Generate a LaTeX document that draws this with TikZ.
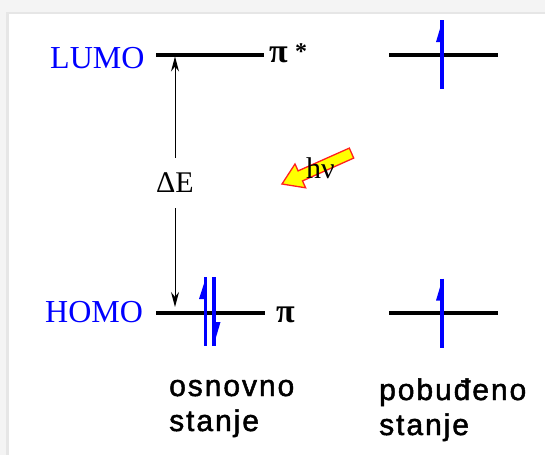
\documentclass[tikz,border=0pt]{standalone}
\usepackage{fontspec}
\setmainfont{Liberation Serif}
\setsansfont{Liberation Sans}
\newfontfamily\labfont[LetterSpace=6.5,FakeBold=1.6]{Liberation Sans}
\usetikzlibrary{arrows.meta}
\definecolor{lblue}{RGB}{0,0,255}
\definecolor{framebg}{RGB}{244,244,244}
\definecolor{frameline}{RGB}{230,230,230}
\definecolor{hvyellow}{RGB}{255,255,0}
\definecolor{hvred}{RGB}{255,30,30}
\begin{document}
\begin{tikzpicture}[x=1pt,y=-1pt,
  level/.style={line width=4pt,black},
  spin/.style={line width=3.5pt,lblue},
  flag/.style={fill=lblue,draw=none},
  gaparrow/.style={line width=1pt,-{Stealth[length=15pt,width=8pt]}},
  orb/.style={font=\fontsize{32}{38}\selectfont,text=lblue,inner sep=0pt,anchor=base west},
  sym/.style={font=\fontsize{34}{40}\selectfont\bfseries,inner sep=0pt,anchor=base west},
  lab/.style={font=\fontsize{30}{36}\selectfont\labfont,inner sep=0pt,anchor=base west},
]
\useasboundingbox (0,0) rectangle (545,455);
\fill[framebg] (0,0) rectangle (545,455);
\fill[frameline] (6,12) rectangle (545,455);
\fill[white] (9,14) rectangle (545,455);

% orbital labels
\node[orb] (lumo) at (50,68) {LUMO};
\node[orb] (homo) at (45,322) {HOMO};
\node[sym] (pistar) at (269,62) {π};
\node[inner sep=0pt,anchor=base west,font=\fontsize{24}{28}\selectfont\bfseries] (star) at (295,59) {*};
\node[sym] (pi) at (276,322) {π};

% level lines
\coordinate (lumoL) at (156,54.5);
\coordinate (lumoR) at (264,54.5);
\coordinate (homoL) at (156,313);
\coordinate (homoR) at (265,313);
\coordinate (elumoL) at (389,54.5);
\coordinate (elumoR) at (498,54.5);
\coordinate (ehomoL) at (389,313);
\coordinate (ehomoR) at (498,313);
\draw[level] (lumoL) -- (lumoR);
\draw[level] (homoL) -- (homoR);
\draw[level] (elumoL) -- (elumoR);
\draw[level] (ehomoL) -- (ehomoR);

% Delta E
\node[inner sep=0pt,minimum height=50pt,font=\fontsize{30}{36}\selectfont] (dE) at (175,183) {ΔE};
\coordinate (dEtop) at (175,56.5);
\coordinate (dEbot) at (175,307);
\draw[gaparrow] (dE.north) -- (dEtop);
\draw[gaparrow] (dE.south) -- (dEbot);

% ground state spins
\draw[spin] (205.5,277) -- (205.5,346);
\fill[flag] (205.5,279) -- (205.5,299) -- (199,299) -- cycle;
\draw[spin] (214,277) -- (214,346);
\fill[flag] (214,344) -- (214,322) -- (220.5,322) -- cycle;

% excited state spins
\draw[spin] (442,20) -- (442,89);
\fill[flag] (442,22) -- (442,42) -- (436,42) -- cycle;
\draw[spin] (442,278.5) -- (442,347.5);
\fill[flag] (442,280.5) -- (442,300.5) -- (436,300.5) -- cycle;

% photon arrow
\draw[fill=hvyellow,draw=hvred,line width=1.3pt,line join=miter]
  (282,184) -- (305.6,187.8) -- (302.5,180.9) -- (353.7,158.1)
  -- (349.3,148.1) -- (298.1,170.9) -- (295,164) -- cycle;
\node[inner sep=0pt,anchor=base west,font=\fontsize{30}{36}\selectfont] (hv) at (306,178) {hν};

% state labels
\node[lab] (osn) at (169,396) {osnovno};
\node[lab] (st1) at (169,431) {stanje};
\node[lab] (pob) at (379,400) {pobuđeno};
\node[lab] (st2) at (379,435) {stanje};
\end{tikzpicture}
\end{document}
